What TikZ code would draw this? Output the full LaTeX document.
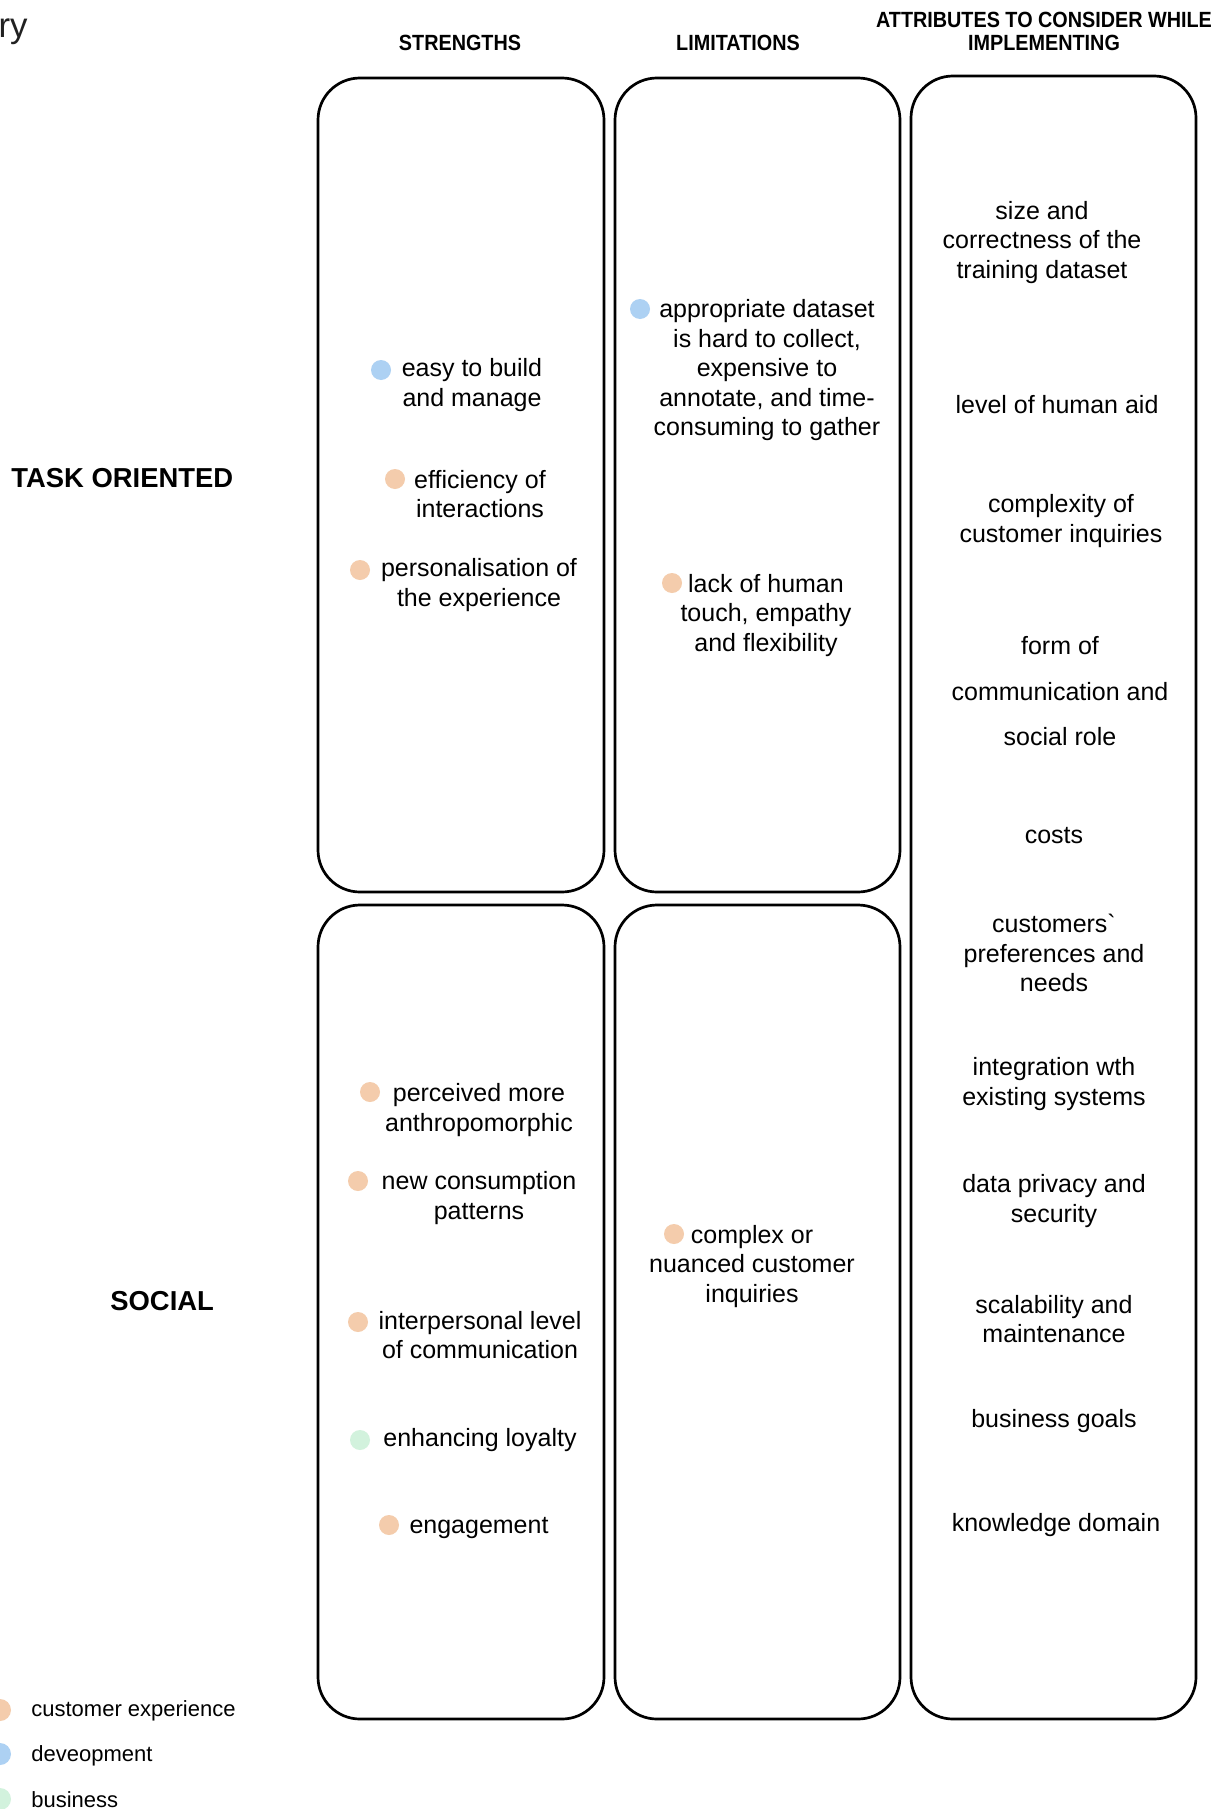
\documentclass[tikz,border=0pt]{standalone}
\usepackage{fontspec}
\setmainfont{Liberation Sans}
\newfontfamily\headfont{Liberation Sans}[FakeStretch=0.9]

\definecolor{cxpeach}{RGB}{244,204,172}
\definecolor{devblue}{RGB}{173,209,243}
\definecolor{bizgreen}{RGB}{210,242,221}

\tikzset{
  panel/.style={draw=black, line width=1.35pt, rounded corners=21pt},
  txt/.style={font=\fontsize{12.5}{14.7}\selectfont, align=center, inner sep=0pt, text=black, yshift=-1.6pt},
  widetxt/.style={txt, font=\fontsize{12.5}{22.8}\selectfont},
  head/.style={font=\headfont\bfseries\fontsize{11}{13}\selectfont, inner sep=0pt},
  rowlabel/.style={font=\bfseries\fontsize{13.7}{16}\selectfont, inner sep=0pt, anchor=west},
  legtxt/.style={font=\fontsize{11}{13}\selectfont, inner sep=0pt, anchor=west, yshift=-1.2pt},
  dot/.style={circle, inner sep=0pt, minimum size=10pt},
  legdot/.style={circle, inner sep=0pt, minimum size=11pt},
}

\begin{document}
\begin{tikzpicture}[x=0.5pt, y=-0.5pt]
  % page
  \fill[white] (0,0) rectangle (1225,1809);
  \useasboundingbox (0,0) rectangle (1225,1809);

  % tail of the title
  \node[anchor=base east, inner sep=0pt, font=\fontsize{17.4}{20}\selectfont, text=black!87] (title) at (28,38) {ry};

  % column headings
  \node[head] (h-str) at (460,43) {STRENGTHS};
  \node[head] (h-lim) at (738,43) {LIMITATIONS};
  \node[head] (h-att1) at (1044,20) {ATTRIBUTES TO CONSIDER WHILE};
  \node[head] (h-att2) at (1044,43) {IMPLEMENTING};

  % row labels
  \node[rowlabel] (r-task) at (11,478) {TASK ORIENTED};
  \node[rowlabel] (r-soc) at (110,1301) {SOCIAL};

  % panels
  \draw[panel] (318,78) rectangle (604,892);
  \draw[panel] (318,905) rectangle (604,1719);
  \draw[panel] (615,78) rectangle (900,892);
  \draw[panel] (615,905) rectangle (900,1719);
  \draw[panel] (911,76) rectangle (1196,1719);

  % strengths, task oriented
  \node[dot, fill=devblue] (d-build) at (381,370) {};
  \node[txt] (t-build) at (472,382) {easy to build\\and manage};
  \node[dot, fill=cxpeach] (d-eff) at (395,479) {};
  \node[txt] (t-eff) at (480,491) {efficiency of\\interactions};
  \node[dot, fill=cxpeach] (d-pers) at (360,570) {};
  \node[txt] (t-pers) at (479,582) {personalisation of\\the experience};

  % limitations, task oriented
  \node[dot, fill=devblue] (d-data) at (640,309) {};
  \node[txt] (t-data) at (767,367) {appropriate dataset\\is hard to collect,\\expensive to\\annotate, and time-\\consuming to gather};
  \node[dot, fill=cxpeach] (d-touch) at (672,583) {};
  \node[txt] (t-touch) at (766,612) {lack of human\\touch, empathy\\and flexibility};

  % strengths, social
  \node[dot, fill=cxpeach] (d-anth) at (370,1092) {};
  \node[txt] (t-anth) at (479,1107) {perceived more\\anthropomorphic};
  \node[dot, fill=cxpeach] (d-cons) at (358,1181) {};
  \node[txt] (t-cons) at (479,1195) {new consumption\\patterns};
  \node[dot, fill=cxpeach] (d-inter) at (358,1322) {};
  \node[txt] (t-inter) at (480,1332) {interpersonal level\\of communication};
  \node[dot, fill=bizgreen] (d-loy) at (360,1440) {};
  \node[txt] (t-loy) at (480,1437) {enhancing loyalty};
  \node[dot, fill=cxpeach] (d-eng) at (389,1525) {};
  \node[txt] (t-eng) at (479,1525) {engagement};

  % limitations, social
  \node[dot, fill=cxpeach] (d-compl) at (674,1234) {};
  \node[txt] (t-compl) at (752,1263) {complex or\\nuanced customer\\inquiries};

  % attributes to consider while implementing
  \node[txt] (a-size) at (1042,239) {size and\\correctness of the\\training dataset};
  \node[txt] (a-aid) at (1057,401) {level of human aid};
  \node[txt] (a-cplx) at (1061,518) {complexity of\\customer inquiries};
  \node[widetxt] (a-form) at (1060,688) {form of\\communication and\\social role};
  \node[txt] (a-cost) at (1054,832) {costs};
  \node[txt] (a-pref) at (1054,950) {customers\textasciigrave\\preferences and\\needs};
  \node[txt] (a-integ) at (1054,1081) {integration wth\\existing systems};
  \node[txt] (a-priv) at (1054,1198) {data privacy and\\security};
  \node[txt] (a-scal) at (1054,1316) {scalability and\\maintenance};
  \node[txt] (a-goal) at (1054,1418) {business goals};
  \node[txt] (a-know) at (1056,1522) {knowledge domain};

  % legend
  \node[legdot, fill=cxpeach] (l-cx) at (0,1710) {};
  \node[legtxt] (lt-cx) at (31,1708) {customer experience};
  \node[legdot, fill=devblue] (l-dev) at (0,1754) {};
  \node[legtxt] (lt-dev) at (31,1753) {deveopment};
  \node[legdot, fill=bizgreen] (l-biz) at (0,1799) {};
  \node[legtxt] (lt-biz) at (31,1797) {business};
\end{tikzpicture}
\end{document}
